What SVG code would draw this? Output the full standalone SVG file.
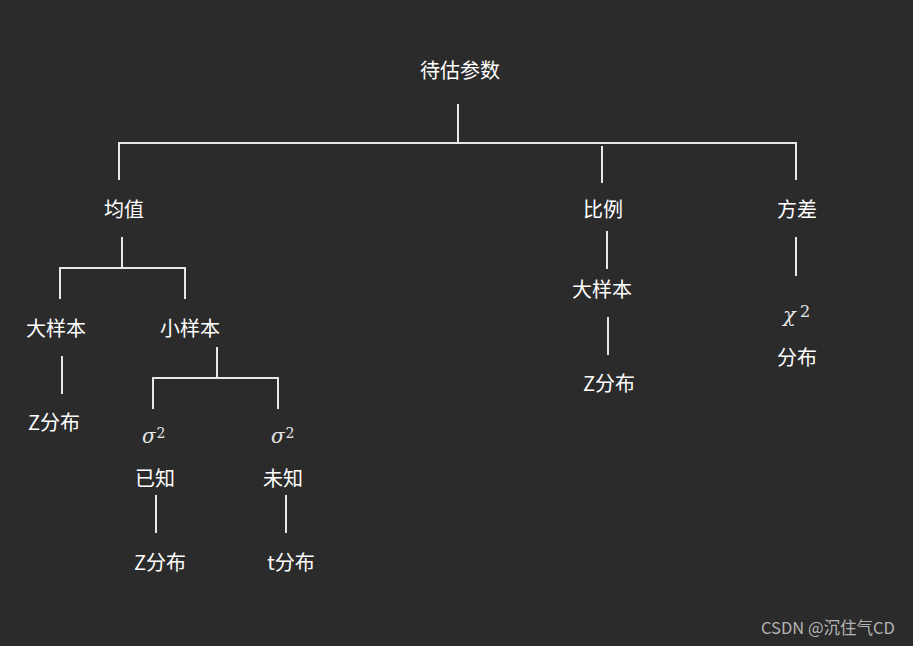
<svg xmlns="http://www.w3.org/2000/svg" width="913" height="646" viewBox="0 0 913 646">
<style>
.t{font-family:"Noto Sans CJK SC","Liberation Sans",sans-serif;font-size:20px;fill:#ffffff;text-anchor:middle}
.m{font-family:"DejaVu Serif","Liberation Serif",serif;font-style:italic;font-size:20px;fill:#e6e6e6}
.s{font-family:"DejaVu Serif","Liberation Serif",serif;font-size:14px;fill:#e6e6e6}
.w{font-family:"Noto Sans CJK SC","Liberation Sans",sans-serif;font-size:16.5px;fill:#b4b4b4}
#edges path{fill:none;stroke:#e8e8e8;stroke-width:2}
</style>
<rect width="913" height="646" fill="#2b2b2b"/>
<g id="edges">
<path d="M458 104V143"/>
<path d="M119 180V143H796V180"/>
<path d="M602 146V183"/>
<path d="M122 237V268"/>
<path d="M60 299V268H185V299"/>
<path d="M62 356V394"/>
<path d="M217 347V378"/>
<path d="M153 409V378H278V409"/>
<path d="M156 495V533"/>
<path d="M286 495V533"/>
<path d="M607 231V269"/>
<path d="M608 317V355"/>
<path d="M796 237V276"/>
</g>
<g id="n-root"><text class="t" x="460" y="78">待估参数</text></g>
<g id="n-mean"><text class="t" x="124" y="217">均值</text></g>
<g id="n-ratio"><text class="t" x="603" y="217">比例</text></g>
<g id="n-var"><text class="t" x="797" y="217">方差</text></g>
<g id="n-large"><text class="t" x="56" y="336">大样本</text></g>
<g id="n-small"><text class="t" x="190" y="336">小样本</text></g>
<g id="n-large-z"><text class="t" x="54" y="430">Z分布</text></g>
<g id="n-s2-known">
<text class="m" x="142" y="443">σ</text><text class="s" x="156.5" y="438">2</text>
<text class="t" x="155" y="486">已知</text>
</g>
<g id="n-s2-unknown">
<text class="m" x="271" y="443">σ</text><text class="s" x="285.5" y="438">2</text>
<text class="t" x="283" y="486">未知</text>
</g>
<g id="n-known-z"><text class="t" x="160" y="570">Z分布</text></g>
<g id="n-unknown-t"><text class="t" x="291" y="570">t分布</text></g>
<g id="n-ratio-large"><text class="t" x="602" y="297">大样本</text></g>
<g id="n-ratio-z"><text class="t" x="609" y="391">Z分布</text></g>
<g id="n-chi">
<text class="m" x="783" y="322" style="font-size:21px">χ</text><text class="s" x="800" y="317" style="font-size:16px">2</text>
<text class="t" x="797" y="365">分布</text>
</g>
<text class="w" x="761" y="634">CSDN @沉住气CD</text>
</svg>
